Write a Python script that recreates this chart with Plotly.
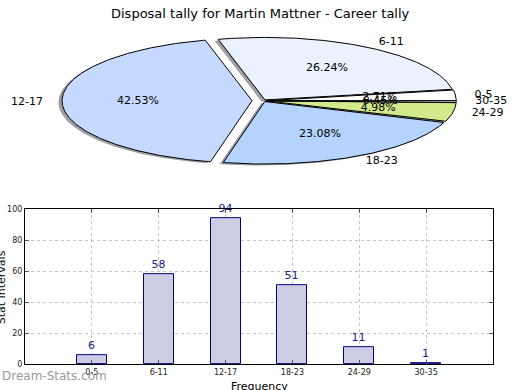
import numpy as np
import plotly.graph_objects as go

# ---- data ----
categories = ["0-5", "6-11", "12-17", "18-23", "24-29", "30-35"]
tally = [6, 58, 94, 51, 11, 1]
title_text = "Disposal tally for Martin Mattner - Career tally"

# ---- styles ----
slice_colors = ["#ffffff", "#eaf1ff", "#c6d9ff", "#b4d4ff", "#d0ea8c", "#e0e0e0"]
explode = [0.015, 0.015, 0.06, 0.015, 0.015, 0.015]
CX, CY, RX, RY = 263.4, 99.0, 190.0, 64.0   # ellipse geometry (px on pie axis)
W, H = 520, 390
FONT = "DejaVu Sans"

fig = go.Figure()

total = float(sum(tally))
fracs = [v / total for v in tally]
starts = np.concatenate([[0.0], np.cumsum(fracs)[:-1]]) * 360.0
ends = np.cumsum(fracs) * 360.0


def slice_path(a0, a1, e, ox=0.0, oy=0.0):
    mid = np.radians((a0 + a1) / 2)
    dx = e * RX * np.cos(mid) + ox
    dy = -e * RY * np.sin(mid) + oy
    n = max(3, int(abs(a1 - a0) * 2))
    t = np.radians(np.linspace(a0, a1, n))
    xs = np.concatenate([[CX + dx], CX + dx + RX * np.cos(t), [CX + dx]])
    ys = np.concatenate([[CY + dy], CY + dy - RY * np.sin(t), [CY + dy]])
    return xs, ys


# shadows
for a0, a1, e in zip(starts, ends, explode):
    xs, ys = slice_path(a0, a1, e, ox=-3.5, oy=1.5)
    fig.add_trace(go.Scatter(x=xs, y=ys, xaxis="x2", yaxis="y2", mode="lines",
                             fill="toself", fillcolor="rgba(40,40,50,0.45)",
                             line=dict(width=0), hoverinfo="skip", showlegend=False))
# slices
for a0, a1, e, c in zip(starts, ends, explode, slice_colors):
    xs, ys = slice_path(a0, a1, e)
    fig.add_trace(go.Scatter(x=xs, y=ys, xaxis="x2", yaxis="y2", mode="lines",
                             fill="toself", fillcolor=c,
                             line=dict(color="black", width=1), hoverinfo="skip",
                             showlegend=False))

# labels
for a0, a1, e, cat, f in zip(starts, ends, explode, categories, fracs):
    mid = np.radians((a0 + a1) / 2)
    bx = CX + e * RX * np.cos(mid)
    by = CY - e * RY * np.sin(mid)
    lx = bx + 1.1 * RX * np.cos(mid)
    ly = by - 1.1 * RY * np.sin(mid)
    pos = "middle right" if np.cos(mid) >= 0 else "middle left"
    fig.add_trace(go.Scatter(x=[lx], y=[ly], xaxis="x2", yaxis="y2", mode="text",
                             text=[cat], textposition=pos,
                             textfont=dict(family=FONT, size=11, color="black"),
                             hoverinfo="skip", showlegend=False))
    px = bx + 0.6 * RX * np.cos(mid)
    py = by - 0.6 * RY * np.sin(mid)
    fig.add_trace(go.Scatter(x=[px], y=[py], xaxis="x2", yaxis="y2", mode="text",
                             text=["%.2f%%" % (f * 100)], textposition="middle center",
                             textfont=dict(family=FONT, size=11, color="black"),
                             hoverinfo="skip", showlegend=False))

# bar chart
fig.add_trace(go.Bar(x=categories, y=tally, width=0.45,
                     marker=dict(color="#cdcde3", line=dict(color="#000080", width=1)),
                     text=[str(v) for v in tally], textposition="outside",
                     textfont=dict(family=FONT, size=11, color="#1c1c8c"),
                     cliponaxis=False, showlegend=False, hoverinfo="skip"))

fig.update_layout(
    width=W, height=H, autosize=False,
    margin=dict(l=0, r=0, t=0, b=0, pad=0),
    paper_bgcolor="white", plot_bgcolor="rgba(0,0,0,0)",
    font=dict(family=FONT, size=8, color="black"),
    showlegend=False,
    bargap=0,
    xaxis=dict(domain=[25 / W, 493 / W], type="category", range=[-1, 6],
               showline=True, linecolor="black", linewidth=1, mirror="ticks",
               ticks="inside", ticklen=4, tickcolor="#555",
               showgrid=True, gridcolor="#c4c4c4", griddash="dot", gridwidth=1,
               tickfont=dict(family=FONT, size=8, color="#222"), zeroline=False,
               fixedrange=True),
    yaxis=dict(domain=[21 / H, 180 / H], range=[0, 100], dtick=20,
               showline=True, linecolor="black", linewidth=1, mirror="ticks",
               ticks="inside", ticklen=4, tickcolor="#555",
               showgrid=True, gridcolor="#c4c4c4", griddash="dot", gridwidth=1,
               tickfont=dict(family=FONT, size=8, color="#222"), zeroline=False,
               fixedrange=True),
    xaxis2=dict(domain=[0, 1], range=[0, W], anchor="y2", visible=False, fixedrange=True),
    yaxis2=dict(domain=[(H - 195) / H, 1], range=[195, 0], anchor="x2", visible=False,
                fixedrange=True),
    annotations=[
        dict(text=title_text, x=0.5, y=1 - 10 / H, xref="paper", yref="paper",
             xanchor="center", yanchor="middle", showarrow=False,
             font=dict(family=FONT, size=13, color="black")),
        dict(text="Stat Intervals", x=1 / W, y=1 - 290 / H, xref="paper", yref="paper",
             xanchor="center", yanchor="middle", textangle=-90, showarrow=False,
             font=dict(family=FONT, size=11, color="black")),
        dict(text="Frequency", x=259 / W, y=1 - 383 / H, xref="paper", yref="paper",
             xanchor="center", yanchor="top", showarrow=False,
             font=dict(family=FONT, size=11, color="black")),
        dict(text="Dream-Stats.com", x=0, y=1 - 381 / H, xref="paper", yref="paper",
             xanchor="left", yanchor="middle", showarrow=False,
             font=dict(family=FONT, size=12, color="#9a9a9a")),
    ],
)

fig.write_html("out.html",
               config={"displayModeBar": False, "responsive": False},
               post_script="document.body.style.margin='0px';")
